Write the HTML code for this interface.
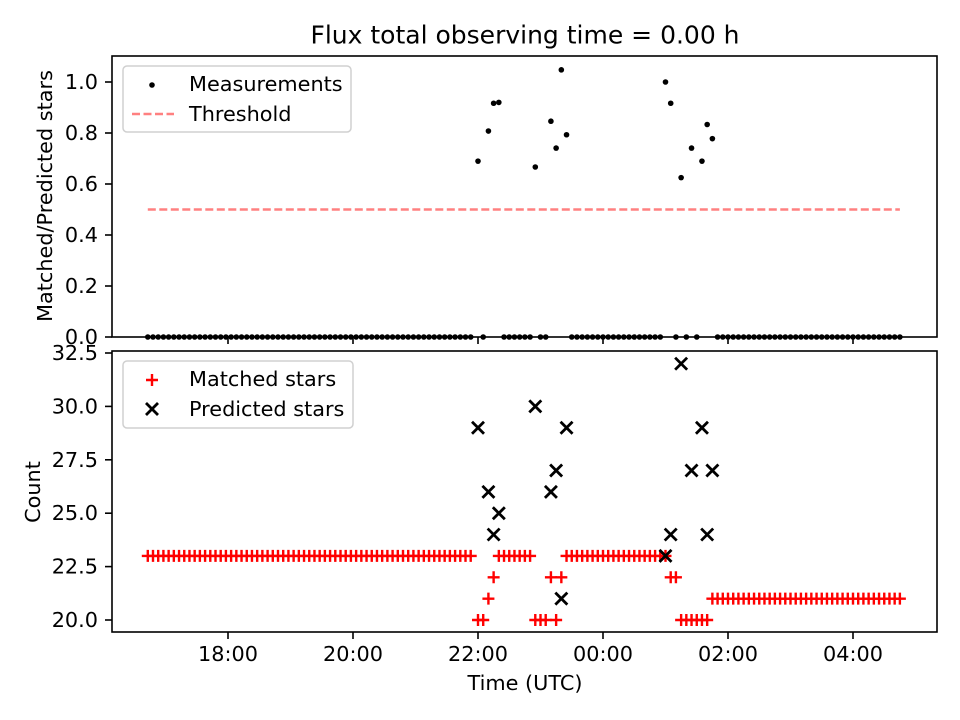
<!DOCTYPE html>
<html><head><meta charset="utf-8"><style>
body{margin:0;background:#fff}
svg{display:block;font-family:"DejaVu Sans","Liberation Sans",sans-serif}
</style></head><body>
<svg id="chart" width="960" height="720" viewBox="0 0 960 720">
<rect width="960" height="720" fill="#fff"/>
<text x="525" y="35" font-size="25" text-anchor="middle" dominant-baseline="central">Flux total observing time = 0.00 h</text>
<g id="topPanel"></g><g id="botPanel"></g>
</svg>
<script>
// times in minutes after 16:00 (first day)
const times = [43,48,53,58,63,68,73,78,83,88,93,98,103,108,113,118,123,128,133,138,143,148,153,158,163,168,173,178,183,188,193,198,203,208,213,218,223,228,233,238,243,248,253,258,263,268,273,278,283,288,293,298,303,308,313,318,323,328,333,338,343,348,353,
360,365,370,375,380,385,390,395,400,405,410,415,420,425,430,435,440,445,
450,455,460,465,470,475,480,485,490,495,500,505,510,515,520,525,530,535,
540,545,550,555,560,565,570,575,580,585,
590,595,600,605,610,615,620,625,630,635,640,645,650,655,660,665,670,675,680,685,690,695,700,705,710,715,720,725,730,735,740,745,750,755,760,765];
const matched = [23,23,23,23,23,23,23,23,23,23,23,23,23,23,23,23,23,23,23,23,23,23,23,23,23,23,23,23,23,23,23,23,23,23,23,23,23,23,23,23,23,23,23,23,23,23,23,23,23,23,23,23,23,23,23,23,23,23,23,23,23,23,23,
20,20,21,22,23,23,23,23,23,23,23,20,20,20,22,20,22,23,
23,23,23,23,23,23,23,23,23,23,23,23,23,23,23,23,23,23,
23,22,22,20,20,20,20,20,20,21,
21,21,21,21,21,21,21,21,21,21,21,21,21,21,21,21,21,21,21,21,21,21,21,21,21,21,21,21,21,21,21,21,21,21,21,21];
const predicted = [null,null,null,null,null,null,null,null,null,null,null,null,null,null,null,null,null,null,null,null,null,null,null,null,null,null,null,null,null,null,null,null,null,null,null,null,null,null,null,null,null,null,null,null,null,null,null,null,null,null,null,null,null,null,null,null,null,null,null,null,null,null,null,
29,null,26,24,25,null,null,null,null,null,null,30,null,null,26,27,21,29,
null,null,null,null,null,null,null,null,null,null,null,null,null,null,null,null,null,null,
23,24,null,32,null,27,null,29,24,27,
null,null,null,null,null,null,null,null,null,null,null,null,null,null,null,null,null,null,null,null,null,null,null,null,null,null,null,null,null,null,null,null,null,null,null,null];
const threshold = 0.5;
const xTickMinutes = [120,240,360,480,600,720];
const xTickLabels = ["18:00","20:00","22:00","00:00","02:00","04:00"];
const topTicks = [0,0.2,0.4,0.6,0.8,1.0];
const botTicks = [20,22.5,25,27.5,30,32.5];

const NS="http://www.w3.org/2000/svg";
function mk(p,tag,a){const e=document.createElementNS(NS,tag);for(const k in a)e.setAttribute(k,a[k]);p.appendChild(e);return e;}
const L=112,R=937;
const xS=m=>103+m*62.5/60;
const yTop=v=>337-v*255;
const yBot=v=>620-(v-20)*21.36;
const topG=document.getElementById('topPanel'), botG=document.getElementById('botPanel');
const FS=20.8;

function axes(g,T,B,ticks,ys,fmt,showX,name){
  for(let i=0;i<ticks.length;i++){
    const y=ys(ticks[i]);
    const l=mk(g,'line',{x1:L-7,x2:L,y1:y,y2:y,stroke:'#000','stroke-width':1.6});
    
    
    const t=mk(g,'text',{x:L-14,y:y,'font-size':FS,'text-anchor':'end','dominant-baseline':'central'});
    t.textContent=fmt(ticks[i]);
    
    
  }
  for(let i=0;i<xTickMinutes.length;i++){
    const x=xS(xTickMinutes[i]);
    const l=mk(g,'line',{x1:x,x2:x,y1:B,y2:B+7,stroke:'#000','stroke-width':1.6});
    
    
    if(showX){const t=mk(g,'text',{x:x,y:B+22,'font-size':FS,'text-anchor':'middle','dominant-baseline':'central'});t.textContent=xTickLabels[i];
      
      }
  }
}
function frame(g,T,B,name){const r=mk(g,'rect',{x:L,y:T,width:R-L,height:B-T,fill:'none',stroke:'#000','stroke-width':1.6});
  
  }

axes(topG,56,337,topTicks,yTop,v=>v.toFixed(1),false,'top');
const thr=mk(topG,'line',{x1:xS(times[0]),x2:xS(times[times.length-1]),y1:yTop(threshold),y2:yTop(threshold),stroke:'#ff8080','stroke-width':2.4,'stroke-dasharray':'8,3.5'});


for(let i=0;i<times.length;i++){
  const r=predicted[i]?matched[i]/predicted[i]:0;
  const c=mk(topG,'circle',{cx:xS(times[i]),cy:yTop(r),r:2.8,fill:'#000'});
  
  
}
frame(topG,56,337,'top');
axes(botG,351,632,botTicks,yBot,v=>v.toFixed(1),true,'bottom');
for(let i=0;i<times.length;i++){
  const x=xS(times[i]),y=yBot(matched[i]);
  const p=mk(botG,'path',{d:`M${x-6},${y}H${x+6}M${x},${y-6}V${y+6}`,stroke:'#f00','stroke-width':2.4,fill:'none'});
  
  
}
for(let i=0;i<times.length;i++){
  if(predicted[i]==null)continue;
  const x=xS(times[i]),y=yBot(predicted[i]);
  const p=mk(botG,'path',{d:`M${x-6},${y-6}L${x+6},${y+6}M${x-6},${y+6}L${x+6},${y-6}`,stroke:'#000','stroke-width':2.8,fill:'none'});
  
  
}
frame(botG,351,632,'bottom');
</script>
<div style="position:absolute;left:0;top:0;width:960px;height:720px;pointer-events:none">
<svg width="960" height="720" style="position:absolute;left:0;top:0;font-family:'DejaVu Sans','Liberation Sans',sans-serif">
<text transform="translate(45,196) rotate(-90)" font-size="20.8" text-anchor="middle" dominant-baseline="central">Matched/Predicted stars</text>
<text transform="translate(33,492) rotate(-90)" font-size="20.8" text-anchor="middle" dominant-baseline="central">Count</text>
<text x="525" y="683" font-size="20.8" text-anchor="middle" dominant-baseline="central">Time (UTC)</text>
<g>
<rect x="123" y="66" width="228" height="66" rx="4" fill="#fff" fill-opacity="0.8" stroke="#d0d0d0" stroke-width="1.5"/>
<circle cx="152" cy="85" r="2.8" fill="#000"/>
<text x="189" y="84" font-size="20.8" dominant-baseline="central">Measurements</text>
<line x1="132" x2="174" y1="114" y2="114" stroke="#ff8080" stroke-width="2.4" stroke-dasharray="8,3.5"/>
<text x="189" y="114" font-size="20.8" dominant-baseline="central">Threshold</text>
</g>
<g>
<rect x="123" y="361" width="230" height="67" rx="4" fill="#fff" fill-opacity="0.8" stroke="#d0d0d0" stroke-width="1.5"/>
<path d="M146,380H158M152,374V386" stroke="#f00" stroke-width="2.4"/>
<text x="189" y="379" font-size="20.8" dominant-baseline="central">Matched stars</text>
<path d="M146,403L158,415M146,415L158,403" stroke="#000" stroke-width="2.8"/>
<text x="189" y="409" font-size="20.8" dominant-baseline="central">Predicted stars</text>
</g>
</svg>
</div>
</body></html>
